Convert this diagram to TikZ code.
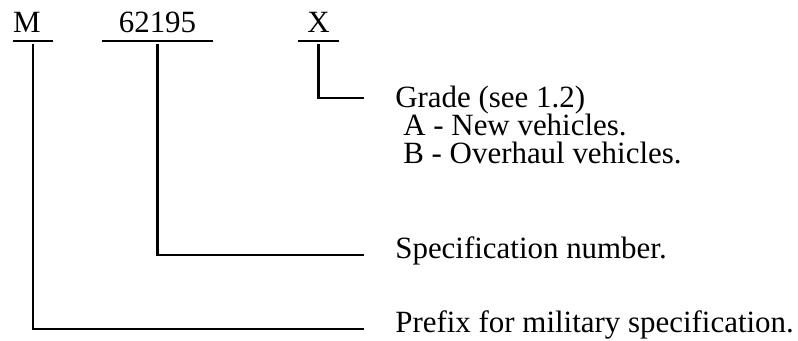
\documentclass[tikz,border=0pt]{standalone}
\usepackage{fontspec}
\setmainfont{Liberation Serif}
\usetikzlibrary{positioning}

\begin{document}
\begin{tikzpicture}[
    x=0.02cm, y=0.02cm,
    code/.style={inner xsep=0pt, inner ysep=0.16cm, anchor=south, text width=#1, align=center, font=\fontsize{17.6}{21}\selectfont},
    note/.style={inner sep=0pt, anchor=base west, font=\fontsize{17.6}{21}\selectfont},
    lead/.style={line width=1.2pt},
]
    \useasboundingbox (0,0) rectangle (798,341);

    % the part number, each piece underlined
    \node[code=0.8cm, align=left] (prefix) at (33,300) {M};
    \node[code=2.22cm] (number) at (157.5,300) {62195};
    \node[code=0.82cm] (grade) at (318.5,300) {X};
    \foreach \n in {prefix, number, grade}
        \draw[lead] (\n.south west) -- (\n.south east);

    % what each piece means
    \node[note] (gradetxt) at (395,233) {Grade (see 1.2)};
    \node[note] (gradea) at (403,205) {A - New vehicles.};
    \node[note] (gradeb) at (403,177) {B - Overhaul vehicles.};
    \node[note] (numtxt) at (395,82) {Specification number.};
    \node[note] (prefixtxt) at (395,8) {Prefix for military specification.};

    \draw[lead] ([yshift=-0.06cm]grade.south) |- ([xshift=-0.62cm, yshift=0.2cm]gradetxt.base west);
    \draw[lead] ([yshift=-0.06cm]number.south) |- ([xshift=-0.62cm, yshift=0.08cm]numtxt.base west);
    \draw[lead] ([yshift=-0.06cm]prefix.south) |- ([xshift=-0.62cm, yshift=0.08cm]prefixtxt.base west);
\end{tikzpicture}
\end{document}
